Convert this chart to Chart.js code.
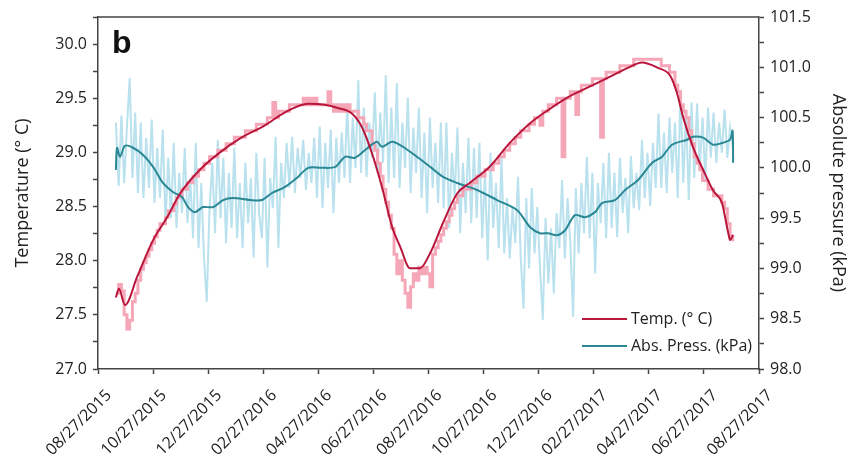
<!DOCTYPE html>
<html>
<head>
<meta charset="utf-8">
<script src="https://cdn.jsdelivr.net/npm/chart.js@4.4.1/dist/chart.umd.min.js"></script>
<style>
  html, body { margin: 0; padding: 0; background: #fff; }
  #wrap { width: 849px; height: 457px; }
</style>
</head>
<body>
<div id="wrap"><canvas id="grafico" width="849" height="457"></canvas></div>
<script>
// x axis in months after 08/27/2015, one tick label every 2 months
const xTickLabels = ['08/27/2015', '10/27/2015', '12/27/2015', '02/27/2016', '04/27/2016', '06/27/2016',
  '08/27/2016', '10/27/2016', '12/27/2016', '02/27/2017', '04/27/2017', '06/27/2017', '08/27/2017'];

// raw logger readings, one every 0.1 month starting at month 0.65
const rawStart = 0.65;
const rawStep = 0.1;

// raw temperature (°C), stepped logger values
const tempRaw = [
  27.70, 27.78, 27.72, 27.50, 27.37, 27.45, 27.62, 27.70, 27.82, 27.92,
  27.98, 28.04, 28.10, 28.16, 28.22, 28.28, 28.34, 28.34, 28.40, 28.46,
  28.46, 28.52, 28.58, 28.60, 28.66, 28.66, 28.72, 28.72, 28.78, 28.78,
  28.84, 28.84, 28.90, 28.90, 28.96, 28.96, 28.96, 29.02, 29.02, 29.02,
  29.08, 29.08, 29.08, 29.14, 29.14, 29.14, 29.14, 29.20, 29.20, 29.20,
  29.20, 29.26, 29.26, 29.26, 29.26, 29.32, 29.32, 29.46, 29.32, 29.38,
  29.38, 29.38, 29.38, 29.44, 29.44, 29.44, 29.44, 29.44, 29.50, 29.44,
  29.50, 29.44, 29.50, 29.44, 29.44, 29.44, 29.44, 29.56, 29.44, 29.38,
  29.44, 29.38, 29.44, 29.38, 29.44, 29.38, 29.38, 29.38, 29.32, 29.32,
  29.26, 29.20, 29.20, 29.08, 29.02, 28.90, 28.78, 28.66, 28.54, 28.42,
  28.30, 28.06, 27.88, 28.00, 27.82, 27.70, 27.57, 27.76, 27.88, 27.82,
  27.94, 27.88, 27.94, 27.88, 27.76, 28.06, 28.12, 28.18, 28.24, 28.30,
  28.36, 28.42, 28.48, 28.54, 28.60, 28.60, 28.66, 28.66, 28.66, 28.72,
  28.72, 28.78, 28.78, 28.78, 28.84, 28.84, 28.84, 28.90, 28.90, 28.96,
  28.96, 29.02, 29.02, 29.08, 29.08, 29.14, 29.14, 29.20, 29.20, 29.20,
  29.26, 29.26, 29.32, 29.32, 29.25, 29.38, 29.38, 29.44, 29.44, 29.44,
  29.50, 29.50, 28.96, 29.50, 29.50, 29.56, 29.56, 29.35, 29.56, 29.62,
  29.62, 29.62, 29.62, 29.68, 29.68, 29.68, 29.14, 29.68, 29.74, 29.74,
  29.74, 29.74, 29.74, 29.80, 29.80, 29.80, 29.80, 29.80, 29.86, 29.86,
  29.86, 29.86, 29.86, 29.86, 29.86, 29.86, 29.86, 29.86, 29.80, 29.80,
  29.80, 29.74, 29.74, 29.62, 29.56, 29.44, 29.38, 29.32, 29.20, 29.08,
  28.96, 28.90, 28.84, 28.74, 28.74, 28.66, 28.66, 28.60, 28.60, 28.60,
  28.54, 28.48, 28.34, 28.22, 28.18
];

// raw absolute pressure (kPa)
const pressRaw = [
  100.45, 99.82, 100.52, 99.85, 100.40, 100.89, 99.90, 100.55,
  99.75, 100.45, 99.70, 100.30, 99.80, 100.48, 99.65, 100.20, 99.70,
  100.38, 99.45, 100.10, 99.50, 100.25, 99.40, 99.95, 99.55, 100.20, 99.45,
  99.90, 99.30, 100.25, 99.20, 99.85, 99.10, 98.67, 99.60, 100.05,
  99.35, 100.28, 99.50, 100.10, 99.25, 99.95, 99.40, 100.20, 99.30, 99.85,
  99.20, 100.05, 99.45, 99.90, 99.11, 100.15, 99.55,
  99.30, 100.10, 99.01, 99.90, 99.60, 100.31, 99.20, 100.05, 99.70, 100.25,
  99.80, 100.31, 99.75, 100.20, 99.90, 100.28, 99.78, 100.15, 99.85, 100.30,
  99.70, 100.41, 99.60, 100.25, 99.80, 100.38, 99.55, 100.30, 99.85, 100.35,
  99.90, 100.64, 99.85, 100.50, 100.00,
  100.87, 99.95, 100.60, 99.91, 100.45, 100.10, 100.75, 99.95, 100.55, 100.05, 100.92,
  99.85, 100.60, 99.90, 100.84, 99.80, 100.45, 100.00, 100.70, 99.75, 100.40, 99.95,
  100.60, 99.70, 100.35, 99.55, 100.50, 99.80, 100.25, 99.65, 100.45,
  99.60, 100.45, 99.40, 100.15, 99.70, 100.40, 99.35, 100.05, 99.55, 100.30, 99.45, 100.20, 99.50,
  100.25, 99.30, 99.95, 99.08, 100.15, 99.40, 99.85, 99.20, 100.10, 99.15, 99.70, 99.10, 99.60, 99.25,
  99.91, 99.10, 98.60, 99.70, 99.00, 99.80, 99.15,
  99.61, 99.00, 98.49, 99.50, 98.85, 99.40, 98.75, 99.55,
  99.20, 99.88, 99.10, 99.70, 99.25, 98.52, 99.80, 99.15, 99.85,
  99.35, 100.11, 99.30, 99.95, 98.95, 99.85, 99.45, 100.05, 99.30,
  100.15, 99.40, 99.95, 99.31, 100.10, 99.55, 99.90, 99.35, 100.12, 99.60, 99.95,
  99.58, 100.28, 99.70, 100.15, 99.62, 100.25, 99.80,
  100.54, 99.80, 100.35, 99.75, 100.50, 99.95, 100.45,
  99.70, 100.77, 99.85, 100.55, 99.68, 100.65,
  99.90, 100.64, 100.00, 100.50, 99.88,
  100.60, 100.10, 100.55, 100.05, 100.45, 100.15, 100.58, 100.10, 100.40, 100.20
];

// smoothed temperature: months and °C
const tempSmoothMonths = [0.65, 0.76, 0.98, 1.42, 2.00, 2.51, 2.98, 3.70, 4.43, 5.16, 6.06, 6.79, 7.63, 8.24,
  8.71, 9.22, 9.59, 9.95, 10.31, 10.68, 10.97, 11.33, 11.69, 12.06, 12.53, 13.04, 13.51, 14.23, 14.96,
  15.69, 16.34, 17.07, 17.79, 18.52, 19.24, 19.75, 20.33, 20.77, 21.02, 21.24, 21.60, 21.97, 22.33,
  22.66, 22.77, 22.88, 22.95, 23.06];
const tempSmooth = [27.66, 27.74, 27.59, 27.85, 28.19, 28.40, 28.62, 28.84, 29.00, 29.13, 29.25, 29.37, 29.45, 29.44,
  29.41, 29.36, 29.23, 28.99, 28.68, 28.31, 28.13, 27.93, 27.93, 28.07, 28.35, 28.62, 28.72, 28.87, 29.09,
  29.27, 29.39, 29.51, 29.60, 29.69, 29.78, 29.83, 29.78, 29.71, 29.55, 29.33, 29.05, 28.84, 28.65,
  28.53, 28.40, 28.26, 28.19, 28.24];

// smoothed pressure: months and kPa
const pressSmoothMonths = [0.65, 0.69, 0.80, 0.98, 1.27, 1.63, 2.00, 2.36, 2.72, 3.05, 3.27, 3.52, 3.81, 4.18, 4.54,
  4.90, 5.52, 5.95, 6.32, 6.79, 7.26, 7.63, 8.13, 8.61, 8.97, 9.33, 9.80, 10.13, 10.31, 10.68, 11.07, 11.58,
  12.06, 12.53, 13.04, 13.76, 14.49, 15.21, 15.69, 16.05, 16.34, 16.67, 16.96, 17.32, 17.68, 18.05, 18.30,
  18.77, 19.14, 19.61, 20.12, 20.48, 20.84, 21.39, 21.60, 21.97, 22.33, 22.69, 22.95, 23.04, 23.06];
const pressSmooth = [99.98, 100.20, 100.11, 100.22, 100.20, 100.13, 100.01, 99.85, 99.76, 99.71, 99.61, 99.56, 99.61, 99.61, 99.68,
  99.70, 99.68, 99.68, 99.75, 99.81, 99.91, 100.00, 100.00, 100.01, 100.11, 100.10, 100.20, 100.26, 100.21, 100.26, 100.21, 100.11,
  100.01, 99.91, 99.85, 99.78, 99.68, 99.58, 99.41, 99.35, 99.35, 99.33, 99.38, 99.53, 99.51, 99.56, 99.65,
  99.68, 99.78, 99.88, 100.05, 100.11, 100.23, 100.28, 100.31, 100.30, 100.23, 100.25, 100.28, 100.37, 100.05];

const colorTemp = '#b8163a';
const colorTempRaw = '#f5a6b7';
const colorPress = '#2a8794';
const colorPressRaw = '#b9e1ee';
const colorText = '#222222';
const colorAxis = '#444444';
const fontName = "'Open Sans', 'DejaVu Sans', sans-serif";

const tempRawPoints = tempRaw.map((v, i) => ({ x: rawStart + i * rawStep, y: v }));
const pressRawPoints = pressRaw.map((v, i) => ({ x: rawStart + i * rawStep, y: v }));
const tempSmoothPoints = tempSmooth.map((v, i) => ({ x: tempSmoothMonths[i], y: v }));
const pressSmoothPoints = pressSmooth.map((v, i) => ({ x: pressSmoothMonths[i], y: v }));

// box on top, panel letter and legend inside the plot
const extrasPlugin = {
  id: 'extras',
  afterDraw(chart) {
    const { ctx, chartArea } = chart;
    ctx.save();
    ctx.strokeStyle = colorAxis;
    ctx.lineWidth = 1.5;
    ctx.beginPath();
    ctx.moveTo(chartArea.left, chartArea.top);
    ctx.lineTo(chartArea.right, chartArea.top);
    ctx.stroke();

    ctx.fillStyle = '#111';
    ctx.font = "bold 32px 'Liberation Sans', Arial, sans-serif";
    ctx.textBaseline = 'alphabetic';
    ctx.fillText('b', 112, 53);

    const entries = [
      { label: 'Temp. (° C)', color: colorTemp, y: 319 },
      { label: 'Abs. Press. (kPa)', color: colorPress, y: 346 }
    ];
    ctx.font = '16px ' + fontName;
    ctx.textBaseline = 'middle';
    entries.forEach(e => {
      ctx.strokeStyle = e.color;
      ctx.lineWidth = 2;
      ctx.beginPath();
      ctx.moveTo(582, e.y);
      ctx.lineTo(627, e.y);
      ctx.stroke();
      ctx.fillStyle = colorText;
      ctx.fillText(e.label, 631, e.y);
    });
    ctx.restore();
  }
};

const ctx = document.getElementById('grafico').getContext('2d');
new Chart(ctx, {
  type: 'line',
  data: {
    datasets: [
      {
        label: 'Temp. (° C)',
        data: tempSmoothPoints,
        yAxisID: 'yTemp',
        borderColor: colorTemp,
        borderWidth: 2,
        pointRadius: 0,
        tension: 0.4,
        cubicInterpolationMode: 'monotone',
        order: 0
      },
      {
        label: 'Abs. Press. (kPa)',
        data: pressSmoothPoints,
        yAxisID: 'yPress',
        borderColor: colorPress,
        borderWidth: 2,
        pointRadius: 0,
        tension: 0.3,
        order: 1
      },
      {
        label: 'Temp. raw',
        data: tempRawPoints,
        yAxisID: 'yTemp',
        borderColor: colorTempRaw,
        borderWidth: 3,
        pointRadius: 0,
        stepped: true,
        order: 2
      },
      {
        label: 'Press. raw',
        data: pressRawPoints,
        yAxisID: 'yPress',
        borderColor: colorPressRaw,
        borderWidth: 2,
        pointRadius: 0,
        order: 3
      }
    ]
  },
  options: {
    responsive: false,
    animation: false,
    devicePixelRatio: 1,
    layout: { padding: { top: 17, left: 0, right: 0, bottom: 0 } },
    plugins: {
      legend: { display: false },
      tooltip: { enabled: false }
    },
    scales: {
      x: {
        type: 'linear',
        min: 0,
        max: 24,
        afterFit: s => { s.height = 88; },
        grid: { drawOnChartArea: false, tickLength: 5, color: colorAxis, tickWidth: 1.5 },
        border: { display: true, color: colorAxis, width: 1.5 },
        ticks: {
          stepSize: 2,
          autoSkip: false,
          minRotation: 45,
          maxRotation: 45,
          padding: 12,
          labelOffset: 11,
          color: colorText,
          font: { family: fontName, size: 16 },
          callback: v => xTickLabels[Math.round(v / 2)]
        }
      },
      yTemp: {
        type: 'linear',
        position: 'left',
        min: 27,
        max: 30.25,
        afterFit: s => { s.width = 98; },
        grid: { drawOnChartArea: false, tickLength: 5, color: colorAxis, tickWidth: 1.5 },
        border: { display: true, color: colorAxis, width: 1.5 },
        ticks: {
          stepSize: 0.25,
          padding: 6,
          color: colorText,
          font: { family: fontName, size: 16 },
          callback: v => (Math.abs(v * 2 - Math.round(v * 2)) < 1e-6 && v <= 30) ? v.toFixed(1) : ''
        },
        title: {
          display: true,
          text: 'Temperature (° C)',
          color: colorText,
          font: { family: fontName, size: 18 },
          padding: { top: 12, bottom: 0 }
        }
      },
      yPress: {
        type: 'linear',
        position: 'right',
        min: 98,
        max: 101.5,
        afterFit: s => { s.width = 90; },
        grid: { drawOnChartArea: false, tickLength: 5, color: colorAxis, tickWidth: 1.5 },
        border: { display: true, color: colorAxis, width: 1.5 },
        ticks: {
          stepSize: 0.25,
          padding: 6,
          color: colorText,
          font: { family: fontName, size: 16 },
          callback: v => (Math.abs(v * 2 - Math.round(v * 2)) < 1e-6) ? v.toFixed(1) : ''
        },
        title: {
          display: true,
          text: 'Absolute pressure (kPa)',
          color: colorText,
          font: { family: fontName, size: 18 },
          padding: { top: 0, bottom: 0 }
        }
      }
    }
  },
  plugins: [extrasPlugin]
});
</script>
</body>
</html>
